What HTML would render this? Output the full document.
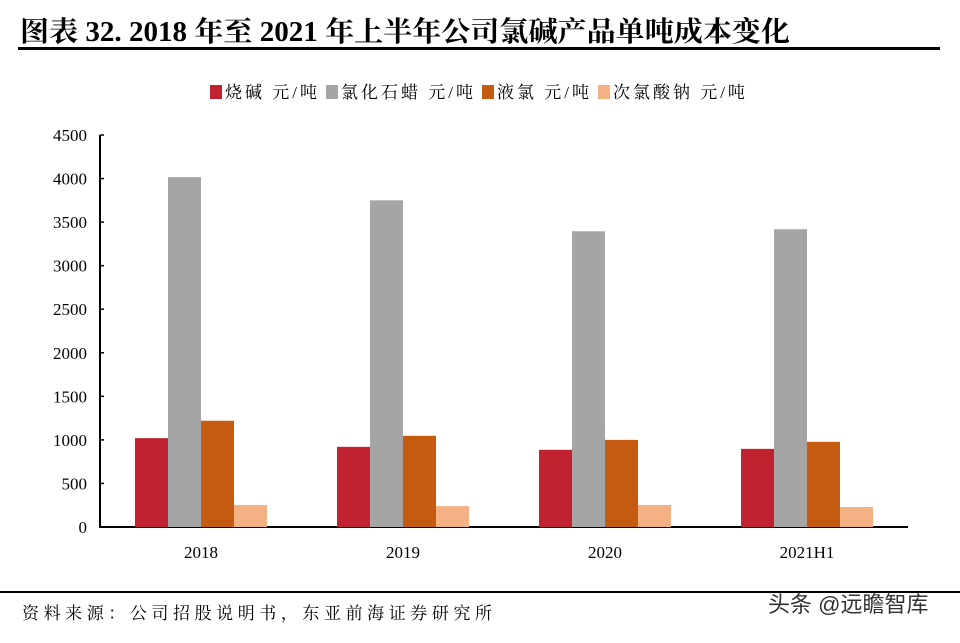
<!DOCTYPE html>
<html><head><meta charset="utf-8"><style>
body{margin:0;background:#fff;width:960px;height:638px;overflow:hidden;font-family:"Liberation Serif","Noto Serif CJK SC",serif;}
</style></head><body>
<svg width="960" height="638" xmlns="http://www.w3.org/2000/svg">
<text x="20" y="41" font-size="28" font-weight="bold" fill="#000" textLength="770" lengthAdjust="spacingAndGlyphs" font-family="Liberation Serif, Noto Serif CJK SC, serif">图表 32. 2018 年至 2021 年上半年公司氯碱产品单吨成本变化</text>
<rect x="18" y="47" width="922" height="3" fill="#000"/>
<g id="legend" font-size="17" letter-spacing="3" font-family="Liberation Serif, Noto Serif CJK SC, serif"></g>
<g id="axes"></g>
<g id="bars"></g>
<rect x="0" y="591" width="960" height="2" fill="#000"/>
<text x="22" y="619" font-size="17" fill="#000" textLength="470" lengthAdjust="spacing" font-family="Liberation Serif, Noto Serif CJK SC, serif">资料来源：公司招股说明书，东亚前海证券研究所</text>
<text x="768" y="612" font-size="22" fill="#333" font-family="Liberation Sans, Noto Sans CJK SC, sans-serif">头条 @远瞻智库</text>
</svg>
<script>
const categories=["2018","2019","2020","2021H1"];
const seriesNames=["烧碱 元/吨","氯化石蜡 元/吨","液氯 元/吨","次氯酸钠 元/吨"];
const caustic=[1020,920,886,897];
const paraffin=[4016,3750,3395,3418];
const chlorine=[1220,1047,1000,978];
const hypo=[253,240,253,230];
const yTicks=[0,500,1000,1500,2000,2500,3000,3500,4000,4500];
const colors=["#c0232f","#a5a5a5","#c55a11","#f4b183"];
const series=[caustic,paraffin,chlorine,hypo];
const NS="http://www.w3.org/2000/svg";
const x0=100,x1=908,y0=527,yTop=135,yMax=4500;
const yS=v=>y0-(v/yMax)*(y0-yTop);
const catW=(x1-x0)/categories.length;
const barW=33;
function mk(t,a,p){const e=document.createElementNS(NS,t);for(const k in a)e.setAttribute(k,a[k]);p.appendChild(e);return e;}
const ax=document.getElementById('axes');
const l1=mk('line',{x1:x0,y1:yTop,x2:x0,y2:y0,stroke:'#000','stroke-width':2},ax);


const l2=mk('line',{x1:x0-1,y1:y0,x2:x1,y2:y0,stroke:'#000','stroke-width':2},ax);


yTicks.forEach(v=>{
 const tk=mk('line',{x1:x0,y1:yS(v),x2:x0+4,y2:yS(v),stroke:'#000','stroke-width':1.5},ax);
 
 
 const t=mk('text',{x:x0-13,y:yS(v)+6,'text-anchor':'end','font-size':17},ax);
 t.textContent=v;
 
 
});
const bg=document.getElementById('bars');
categories.forEach((c,i)=>{
 const cx=x0+catW*(i+0.5);
 const t=mk('text',{x:cx,y:558,'text-anchor':'middle','font-size':17},ax);
 t.textContent=c;
 
 
 series.forEach((s,j)=>{
  const bx=cx-2*barW+j*barW;
  const r=mk('rect',{x:bx,y:yS(s[i]),width:barW,height:y0-yS(s[i]),fill:colors[j]},bg);
  
  
 });
});
const lg=document.getElementById('legend');
let lx=210;
seriesNames.forEach((n,j)=>{
 const r=mk('rect',{x:lx,y:85,width:12,height:14,fill:colors[j]},lg);
 
 
 const t=mk('text',{x:lx+15,y:98},lg);
 t.textContent=n;
 
 
 lx+=15+t.getComputedTextLength()+6;
});
</script>
</body></html>
